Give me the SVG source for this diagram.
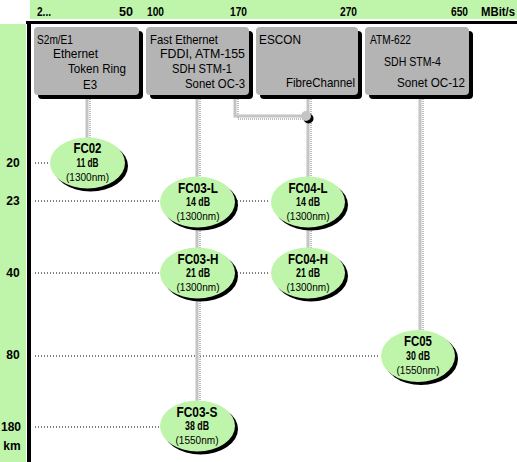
<svg xmlns="http://www.w3.org/2000/svg" width="517" height="462" viewBox="0 0 517 462">
<style>
text{font-family:"Liberation Sans",Arial,sans-serif;fill:#000}
.hd{font-size:12.5px;font-weight:bold}
.lb{font-size:12px;font-weight:bold;text-anchor:middle}
.bx{font-size:13px}
.t{font-size:14.5px;font-weight:bold;text-anchor:middle}
.db{font-size:12px;font-weight:bold;text-anchor:middle}
.nm{font-size:11px;text-anchor:middle}
.box{fill:#b4b4b4}
.bsh{fill:#000}
.ell{fill:#bff5aa}
.esh{fill:#000}
.grid{stroke:#000;stroke-width:1;stroke-dasharray:1 2;fill:none}
.cn{stroke:#c4c4c4;stroke-width:3;fill:none}
.cns{stroke:#a8a8a8;stroke-width:1.5;stroke-dasharray:1 1;fill:none}
</style>
<rect width="517" height="462" fill="#fff"/>
<g id="axes">
<rect x="30" y="0" width="487" height="19" fill="#bff5aa"/>
<rect x="0" y="24" width="26" height="438" fill="#bff5aa"/>
<rect x="26" y="21" width="491" height="3" fill="#000"/>
<rect x="27" y="21" width="4" height="441" fill="#000"/>
<text class="hd" x="37" y="16" textLength="14" lengthAdjust="spacingAndGlyphs">2...</text>
<text class="hd" x="119" y="16" textLength="14" lengthAdjust="spacingAndGlyphs">50</text>
<text class="hd" x="147" y="16" textLength="17" lengthAdjust="spacingAndGlyphs">100</text>
<text class="hd" x="230" y="16" textLength="17" lengthAdjust="spacingAndGlyphs">170</text>
<text class="hd" x="340" y="16" textLength="17" lengthAdjust="spacingAndGlyphs">270</text>
<text class="hd" x="451" y="16" textLength="17" lengthAdjust="spacingAndGlyphs">650</text>
<text class="hd" x="481" y="16" textLength="34" lengthAdjust="spacingAndGlyphs">MBit/s</text>
<text class="lb" x="13" y="167">20</text>
<text class="lb" x="13" y="205">23</text>
<text class="lb" x="13" y="277">40</text>
<text class="lb" x="13" y="359">80</text>
<text class="lb" x="11" y="431">180</text>
<text class="lb" x="12" y="450">km</text>
</g>
<g id="gridlines">
<path class="grid" d="M35 163H49M35 201H160M237 201H270M35 273H160M237 273H270M35 356H380M35 427H160"/>
</g>
<g id="connectors">
<path class="cns" d="M90 97V140M200 97V402M238 97V119H308M311 97V250M423 97V332"/>
<path class="cn" d="M87 95V138M197 95V401M235 95V116H306M308 95V248M420 95V330"/>
<circle cx="308.5" cy="118.5" r="5" fill="#000"/>
<circle cx="306" cy="116" r="5" fill="#c4c4c4"/>
</g>
<g id="box1">
<rect class="bsh" x="38" y="31" width="105" height="68" rx="4"/>
<rect class="box" x="34" y="27" width="105" height="68" rx="4"/>
<text class="bx" x="37" y="44" textLength="36" lengthAdjust="spacingAndGlyphs">S2m/E1</text>
<text class="bx" x="53" y="58" textLength="45" lengthAdjust="spacingAndGlyphs">Ethernet</text>
<text class="bx" x="68" y="73" textLength="58" lengthAdjust="spacingAndGlyphs">Token Ring</text>
<text class="bx" x="83" y="89" textLength="14" lengthAdjust="spacingAndGlyphs">E3</text>
</g>
<g id="box2">
<rect class="bsh" x="150" y="31" width="103" height="68" rx="4"/>
<rect class="box" x="146" y="27" width="103" height="68" rx="4"/>
<text class="bx" x="150" y="44" textLength="68" lengthAdjust="spacingAndGlyphs">Fast Ethernet</text>
<text class="bx" x="160" y="58" textLength="85" lengthAdjust="spacingAndGlyphs">FDDI, ATM-155</text>
<text class="bx" x="172" y="73" textLength="60" lengthAdjust="spacingAndGlyphs">SDH STM-1</text>
<text class="bx" x="185" y="88" textLength="60" lengthAdjust="spacingAndGlyphs">Sonet OC-3</text>
</g>
<g id="box3">
<rect class="bsh" x="260" y="31" width="102" height="68" rx="4"/>
<rect class="box" x="256" y="27" width="102" height="68" rx="4"/>
<text class="bx" x="259" y="44" textLength="42" lengthAdjust="spacingAndGlyphs">ESCON</text>
<text class="bx" x="286" y="87" textLength="69" lengthAdjust="spacingAndGlyphs">FibreChannel</text>
</g>
<g id="box4">
<rect class="bsh" x="369" y="31" width="104" height="68" rx="4"/>
<rect class="box" x="365" y="27" width="104" height="68" rx="4"/>
<text class="bx" x="370" y="44" textLength="41" lengthAdjust="spacingAndGlyphs">ATM-622</text>
<text class="bx" x="384" y="66" textLength="57" lengthAdjust="spacingAndGlyphs">SDH STM-4</text>
<text class="bx" x="397" y="87" textLength="68" lengthAdjust="spacingAndGlyphs">Sonet OC-12</text>
</g>
<g id="FC02">
<ellipse class="esh" cx="90.5" cy="166" rx="37.5" ry="25.5"/>
<ellipse class="ell" cx="87.5" cy="163" rx="37.5" ry="25.5"/>
<text class="t" x="87.5" y="153" textLength="28" lengthAdjust="spacingAndGlyphs">FC02</text>
<text class="db" x="87.5" y="167" textLength="22" lengthAdjust="spacingAndGlyphs">11 dB</text>
<text class="nm" x="87.5" y="181" textLength="43" lengthAdjust="spacingAndGlyphs">(1300nm)</text>
</g>
<g id="FC03-L">
<ellipse class="esh" cx="200.5" cy="205" rx="37.5" ry="25.5"/>
<ellipse class="ell" cx="197.5" cy="202" rx="37.5" ry="25.5"/>
<text class="t" x="198" y="193" textLength="40" lengthAdjust="spacingAndGlyphs">FC03-L</text>
<text class="db" x="198" y="206" textLength="24" lengthAdjust="spacingAndGlyphs">14 dB</text>
<text class="nm" x="198" y="220" textLength="43" lengthAdjust="spacingAndGlyphs">(1300nm)</text>
</g>
<g id="FC03-H">
<ellipse class="esh" cx="200.5" cy="276" rx="37.5" ry="25.5"/>
<ellipse class="ell" cx="197.5" cy="273" rx="37.5" ry="25.5"/>
<text class="t" x="198" y="264" textLength="41" lengthAdjust="spacingAndGlyphs">FC03-H</text>
<text class="db" x="198" y="277" textLength="24" lengthAdjust="spacingAndGlyphs">21 dB</text>
<text class="nm" x="198" y="291" textLength="43" lengthAdjust="spacingAndGlyphs">(1300nm)</text>
</g>
<g id="FC03-S">
<ellipse class="esh" cx="200.5" cy="429" rx="37.5" ry="25.5"/>
<ellipse class="ell" cx="197.5" cy="426" rx="37.5" ry="25.5"/>
<text class="t" x="197" y="417" textLength="41" lengthAdjust="spacingAndGlyphs">FC03-S</text>
<text class="db" x="197" y="430" textLength="24" lengthAdjust="spacingAndGlyphs">38 dB</text>
<text class="nm" x="197" y="444" textLength="43" lengthAdjust="spacingAndGlyphs">(1550nm)</text>
</g>
<g id="FC04-L">
<ellipse class="esh" cx="311" cy="205" rx="37" ry="25.5"/>
<ellipse class="ell" cx="308" cy="202" rx="37" ry="25.5"/>
<text class="t" x="308" y="193" textLength="39" lengthAdjust="spacingAndGlyphs">FC04-L</text>
<text class="db" x="308" y="206" textLength="24" lengthAdjust="spacingAndGlyphs">14 dB</text>
<text class="nm" x="308" y="220" textLength="43" lengthAdjust="spacingAndGlyphs">(1300nm)</text>
</g>
<g id="FC04-H">
<ellipse class="esh" cx="311" cy="276" rx="37" ry="25.5"/>
<ellipse class="ell" cx="308" cy="273" rx="37" ry="25.5"/>
<text class="t" x="308" y="264" textLength="40" lengthAdjust="spacingAndGlyphs">FC04-H</text>
<text class="db" x="308" y="277" textLength="24" lengthAdjust="spacingAndGlyphs">21 dB</text>
<text class="nm" x="308" y="291" textLength="43" lengthAdjust="spacingAndGlyphs">(1300nm)</text>
</g>
<g id="FC05">
<ellipse class="esh" cx="421" cy="359" rx="37" ry="26"/>
<ellipse class="ell" cx="418" cy="356" rx="37" ry="26"/>
<text class="t" x="418" y="346" textLength="28" lengthAdjust="spacingAndGlyphs">FC05</text>
<text class="db" x="418" y="360" textLength="24" lengthAdjust="spacingAndGlyphs">30 dB</text>
<text class="nm" x="418" y="374" textLength="43" lengthAdjust="spacingAndGlyphs">(1550nm)</text>
</g>
</svg>
